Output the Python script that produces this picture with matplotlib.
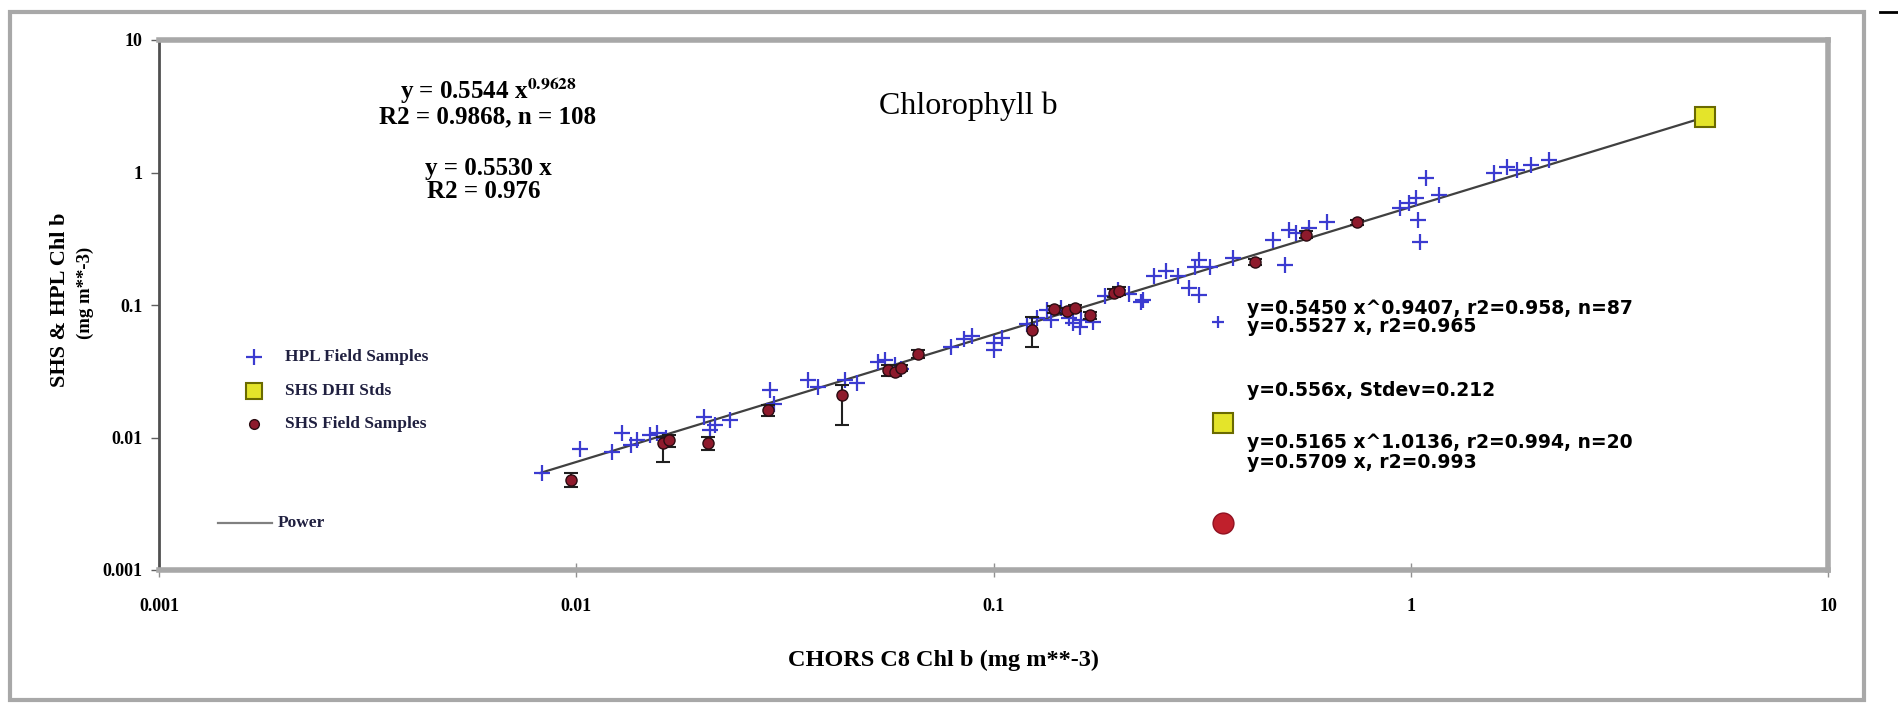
import matplotlib
matplotlib.use("Agg")
import matplotlib.pyplot as plt
from matplotlib.patches import Rectangle
from matplotlib.lines import Line2D

plt.rcParams["mathtext.fontset"] = "stix"

# ---------------- data ----------------
hpl_x = [0.0083, 0.0102, 0.0122, 0.0129, 0.0135, 0.0140, 0.0150, 0.0156, 0.0164, 0.0202,
         0.0209, 0.0215, 0.0234, 0.0291, 0.0297, 0.0360, 0.0380, 0.0440, 0.0470, 0.0530,
         0.0550, 0.0580, 0.0600, 0.0790, 0.0890, 0.0850, 0.1000, 0.1000, 0.1050, 0.1200,
         0.1270, 0.1340, 0.1370, 0.1450, 0.1520, 0.1550, 0.1610, 0.1620, 0.1730, 0.1850,
         0.1990, 0.2110, 0.2260, 0.2280, 0.2420, 0.2590, 0.2770, 0.2940, 0.3040, 0.3100,
         0.3100, 0.3300, 0.3750, 0.4670, 0.5000, 0.5100, 0.5300, 0.6300, 0.5700, 0.9400,
         0.9900, 1.0400, 1.0500, 1.0900, 1.0300, 1.1700, 1.5800, 1.7000, 1.9400, 2.1400,
         1.8000]
hpl_y = [0.0054, 0.0082, 0.0078, 0.0108, 0.0088, 0.0095, 0.0105, 0.0108, 0.0100, 0.0142,
         0.0114, 0.0125, 0.0136, 0.0227, 0.0180, 0.0270, 0.0240, 0.0270, 0.0260, 0.0370,
         0.0386, 0.0350, 0.0330, 0.0480, 0.0580, 0.0550, 0.0520, 0.0460, 0.0560, 0.0714,
         0.0800, 0.0920, 0.0765, 0.0950, 0.0800, 0.0730, 0.0680, 0.0770, 0.0750, 0.1160,
         0.1290, 0.1220, 0.1050, 0.1100, 0.1660, 0.1800, 0.1650, 0.1340, 0.1950, 0.1180,
         0.2190, 0.1940, 0.2270, 0.3100, 0.2000, 0.3680, 0.3500, 0.4200, 0.3800, 0.5400,
         0.5900, 0.4400, 0.3000, 0.9100, 0.6400, 0.6800, 0.9900, 1.1000, 1.1400, 1.2400,
         1.0500]

shs_x = [0.0097, 0.0161, 0.0167, 0.0207, 0.0288, 0.0434, 0.0560, 0.0580, 0.0600, 0.0660,
         0.1240, 0.1400, 0.1500, 0.1570, 0.1700, 0.1940, 0.2000, 0.4240, 0.5600, 0.7430]
shs_y = [0.0048, 0.0091, 0.0095, 0.0091, 0.0161, 0.0209, 0.0323, 0.0310, 0.0335, 0.0430,
         0.0648, 0.0925, 0.0900, 0.0955, 0.0835, 0.1230, 0.1280, 0.2110, 0.3400, 0.4200]
shs_err_lo = [0.0006, 0.0026, 0.0010, 0.0010, 0.0015, 0.0084, 0.0030, 0.0020, 0.0020, 0.0030,
              0.0170, 0.0050, 0.0050, 0.0050, 0.0050, 0.0080, 0.0080, 0.0100, 0.0200, 0.0200]
shs_err_hi = [0.0006, 0.0010, 0.0010, 0.0010, 0.0015, 0.0040, 0.0030, 0.0020, 0.0020, 0.0030,
              0.0170, 0.0050, 0.0050, 0.0050, 0.0050, 0.0080, 0.0080, 0.0100, 0.0200, 0.0200]

dhi_x = [5.08]
dhi_y = [2.62]

power_x = [0.0082, 5.08]
power_y = [0.0054, 2.62]

# key markers placed beside the regression statistics
key_x = [0.345, 0.355, 0.355]
key_y = [0.0740, 0.0129, 0.00226]

xticks = [0.001, 0.01, 0.1, 1, 10]
tick_labels = ["0.001", "0.01", "0.1", "1", "10"]

stats_left = ["y = 0.5544 x$^{\\mathbf{0.9628}}$", "R2 = 0.9868, n = 108", "y = 0.5530 x", "R2 = 0.976"]
stats_right = ["y=0.5450 x^0.9407, r2=0.958, n=87", "y=0.5527 x, r2=0.965",
               "y=0.556x, Stdev=0.212",
               "y=0.5165 x^1.0136, r2=0.994, n=20", "y=0.5709 x, r2=0.993"]

legend_labels = ["HPL Field Samples", "SHS DHI Stds", "SHS Field Samples", "Power"]

# ---------------- style ----------------
W, H = 1898, 703
SERIF = ["Liberation Serif", "DejaVu Serif"]
BLUE = "#3b3bd0"
RED = "#8e1a2c"
YELLOW = "#e4e42a"
GRAY = "#a8a8a8"

fig = plt.figure(figsize=(W / 100, H / 100), dpi=100)
fig.patch.set_facecolor("white")

def fx(px):
    return px / W

def fy(py):
    return 1 - py / H

# outer frame
fig.patches.append(Rectangle((fx(10), fy(700)), fx(1864) - fx(10), fy(12) - fy(700),
                             transform=fig.transFigure, fill=False, edgecolor=GRAY, lw=3))
fig.add_artist(Line2D([fx(1880), fx(1898)], [fy(12), fy(12)], transform=fig.transFigure,
                      color="black", lw=2))

L, R, T, B = 159, 1828, 40, 570
ax = fig.add_axes([fx(L), fy(B), fx(R) - fx(L), fy(T) - fy(B)])
ax.set_xscale("log")
ax.set_yscale("log")
ax.set_xlim(0.001, 10)
ax.set_ylim(0.001, 10)

for s in ["top", "right", "bottom"]:
    ax.spines[s].set_color(GRAY)
    ax.spines[s].set_linewidth(4)
ax.spines["left"].set_color("#505050")
ax.spines["left"].set_linewidth(2)

ax.set_xticks(xticks)
ax.set_xticklabels(tick_labels)
ax.set_yticks(xticks)
ax.set_yticklabels(tick_labels)
ax.minorticks_off()
ax.tick_params(axis="x", direction="inout", length=10, width=1, color="#909090", pad=15)
ax.tick_params(axis="y", direction="out", length=6, width=1, color="#606060", pad=6)
for lab in ax.get_xticklabels() + ax.get_yticklabels():
    lab.set_fontfamily(SERIF)
    lab.set_fontweight("bold")
    lab.set_fontsize(13)

# power fit line
ax.plot(power_x, power_y, color="#404040", lw=1.6, zorder=2)

# HPL field samples
ax.plot(hpl_x, hpl_y, linestyle="none", marker="+", markersize=11, mew=1.6,
        color=BLUE, zorder=3)

# SHS field samples with error bars
ax.errorbar(shs_x, shs_y, yerr=[shs_err_lo, shs_err_hi], fmt="o", markersize=8,
            mfc=RED, mec="#2a0c12", ecolor="#202020", elinewidth=1.5, capsize=5,
            capthick=1.5, zorder=4)

# DHI standard
ax.plot(dhi_x, dhi_y, linestyle="none", marker="s", markersize=15, mfc=YELLOW,
        mec="#6a6a00", mew=1.5, zorder=5)

# key markers beside statistics
ax.plot(key_x[0], key_y[0], linestyle="none", marker="+", markersize=9, mew=1.6, color=BLUE)
ax.plot(key_x[1], key_y[1], linestyle="none", marker="s", markersize=14, mfc=YELLOW,
        mec="#6a6a00", mew=1.5)
ax.plot(key_x[2], key_y[2], linestyle="none", marker="o", markersize=15, mfc="#c0202c",
        mec="#901020", mew=1)

# title
ax.text(0.485, 0.875, "Chlorophyll b", transform=ax.transAxes, ha="center", va="center",
        fontsize=23, family=SERIF)

# left statistics
def axx(px):
    return (px - L) / (R - L)

def axy(py):
    return (B - py) / (B - T)

left_pos = [(488, 91), (488, 117), (488, 169), (484, 191)]
for txt, (px, py) in zip(stats_left, left_pos):
    ax.text(axx(px), axy(py), txt, transform=ax.transAxes, ha="center", va="center",
            fontsize=18, family=SERIF, fontweight="bold")

right_pos = [309, 327, 391, 443, 462]
for txt, py in zip(stats_right, right_pos):
    ax.text(axx(1247), axy(py), txt, transform=ax.transAxes, ha="left", va="center",
            fontsize=13.5, family="DejaVu Sans", fontweight="bold")

# manual legend
leg_marker_x = axx(254)
ax.plot([leg_marker_x], [axy(357)], transform=ax.transAxes, marker="+", markersize=11,
        mew=1.6, color=BLUE, linestyle="none", clip_on=False)
ax.plot([leg_marker_x], [axy(391)], transform=ax.transAxes, marker="s", markersize=12,
        mfc=YELLOW, mec="#6a6a00", mew=1.5, linestyle="none", clip_on=False)
ax.plot([leg_marker_x], [axy(424)], transform=ax.transAxes, marker="o", markersize=7,
        mfc=RED, mec="#2a0c12", linestyle="none", clip_on=False)
ax.plot([axx(218), axx(272)], [axy(523), axy(523)], transform=ax.transAxes,
        color="#808080", lw=1.6, clip_on=False)
for txt, py, px in zip(legend_labels, [357, 391, 424, 523], [285, 285, 285, 278]):
    ax.text(axx(px), axy(py), txt, transform=ax.transAxes, ha="left", va="center",
            fontsize=12.5, family=SERIF, fontweight="bold", color="#202040")

# axis labels
fig.text(fx(944), fy(660), "CHORS C8 Chl b (mg m**-3)", ha="center", va="center",
         fontsize=17.5, family=SERIF, fontweight="bold")
fig.text(fx(60), fy(300), "SHS & HPL Chl b", ha="center", va="center", rotation=90,
         fontsize=16, family=SERIF, fontweight="bold")
fig.text(fx(85), fy(293), "(mg m**-3)", ha="center", va="center", rotation=90,
         fontsize=13.5, family=SERIF, fontweight="bold")

fig.savefig("out.png", dpi=100, facecolor="white")
